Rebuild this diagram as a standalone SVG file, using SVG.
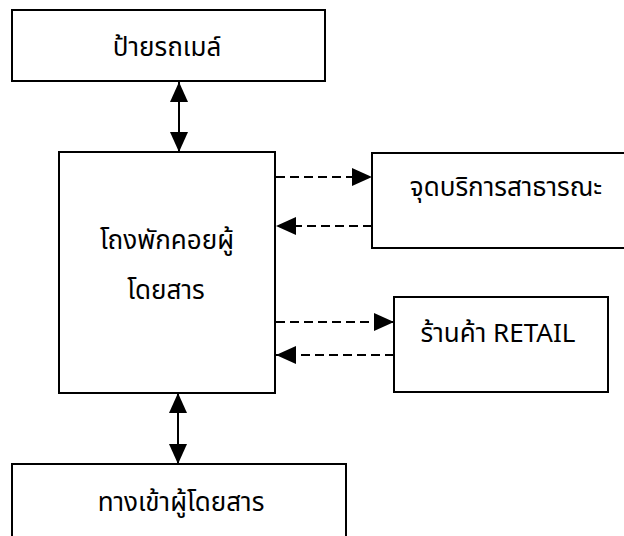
<svg xmlns="http://www.w3.org/2000/svg" width="624" height="536" viewBox="0 0 624 536">
<style>
.box{fill:#fff;stroke:#000;stroke-width:2}
.lbl{font-family:"Noto Sans Thai","Noto Sans","DejaVu Sans",sans-serif;font-size:26px;fill:#000;text-anchor:middle}
.solid{stroke:#000;stroke-width:2;fill:none}
.dash{stroke:#000;stroke-width:2;fill:none;stroke-dasharray:9 5}
</style>
<defs>
<marker id="ah" markerUnits="userSpaceOnUse" markerWidth="20" markerHeight="18" viewBox="0 0 20 18" refX="20" refY="9" orient="auto-start-reverse">
<path d="M0,0 L20,9 L0,18 Z" fill="#000"/>
</marker>
</defs>
<rect width="624" height="536" fill="#fff"/>
<g id="connectors">
<line class="solid" x1="179" y1="82" x2="179" y2="152" marker-start="url(#ah)" marker-end="url(#ah)"/>
<line class="solid" x1="178" y1="393" x2="178" y2="464" marker-start="url(#ah)" marker-end="url(#ah)"/>
<line class="dash" x1="276" y1="177" x2="372" y2="177" marker-end="url(#ah)"/>
<line class="dash" x1="372" y1="226" x2="276" y2="226" marker-end="url(#ah)"/>
<line class="dash" x1="276" y1="322" x2="394" y2="322" marker-end="url(#ah)"/>
<line class="dash" x1="394" y1="355" x2="276" y2="355" marker-end="url(#ah)"/>
</g>
<g id="bus-sign">
<rect class="box" x="12" y="10" width="313" height="71"/>
<text class="lbl" x="167" y="56">ป้ายรถเมล์</text>
</g>
<g id="waiting-hall">
<rect class="box" x="59" y="152" width="216" height="241"/>
<text class="lbl" x="167" y="249">โถงพักคอยผู้</text>
<text class="lbl" x="166" y="299">โดยสาร</text>
</g>
<g id="public-service">
<rect class="box" x="372" y="153" width="260" height="95"/>
<text class="lbl" x="506" y="196">จุดบริการสาธารณะ</text>
</g>
<g id="retail">
<rect class="box" x="394" y="297" width="214" height="95"/>
<text class="lbl" x="498" y="342">ร้านค้า RETAIL</text>
</g>
<g id="entrance">
<rect class="box" x="12" y="464" width="334" height="90"/>
<text class="lbl" x="181" y="511">ทางเข้าผู้โดยสาร</text>
</g>
</svg>
